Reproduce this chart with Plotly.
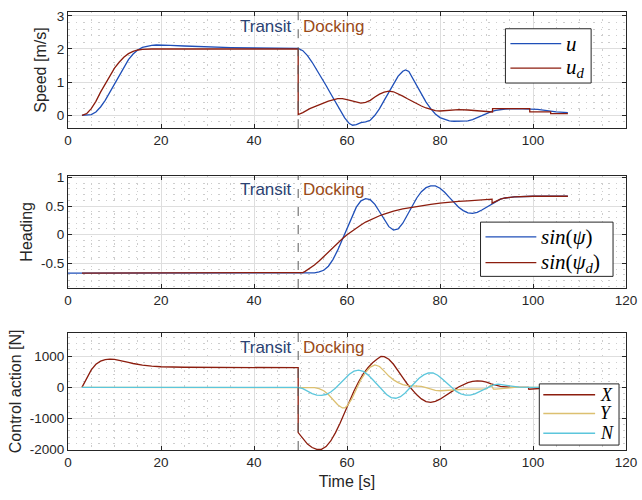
import plotly.graph_objects as go

# ---------------- data ----------------
SWITCH_T = 49.5

# Speed: u
u_t = [3, 4, 5, 6, 7, 8, 9, 10, 11, 12, 13, 14, 15, 16, 17, 18, 19, 20, 22, 25, 30, 35, 40, 45, 49.5,
       50.5, 51.5, 52.5, 53.5, 54.5, 55.5, 56.5, 57.5, 58.5, 59.5, 60.5, 61.2, 62, 63, 64, 65, 66, 67, 68, 69,
       70, 71, 72, 72.6, 73.3, 74, 75, 76, 77, 78, 79, 80, 81, 82, 83, 84, 85, 86, 87, 88, 89, 90, 91,
       92, 93, 94, 96, 98, 99.5, 101, 103, 105, 107.5]
u_v = [0, 0, 0.02, 0.1, 0.25, 0.45, 0.7, 0.95, 1.2, 1.45, 1.68, 1.85, 1.97, 2.05, 2.09, 2.11, 2.12, 2.12, 2.11, 2.09, 2.06, 2.04, 2.03, 2.02, 2.02,
       1.95, 1.8, 1.6, 1.38, 1.15, 0.9, 0.65, 0.4, 0.15, -0.08, -0.25, -0.3, -0.28, -0.22, -0.2, -0.15, 0.0, 0.2, 0.45, 0.7,
       0.95, 1.18, 1.33, 1.37, 1.32, 1.15, 0.88, 0.62, 0.4, 0.2, 0.04, -0.07, -0.13, -0.17, -0.18, -0.18, -0.18, -0.17, -0.13, -0.07, 0.0, 0.06, 0.11,
       0.15, 0.17, 0.19, 0.2, 0.2, 0.2, 0.18, 0.14, 0.1, 0.08]

# Speed: u_d
ud_t = [3, 4, 5, 6, 7, 8, 9, 10, 11, 12, 13, 14, 15, 16, 18, 20, 30, 49.5, 49.5,
        50.5, 52, 54, 56, 58, 59, 60, 61, 62, 63, 64, 65, 66, 67, 68, 69, 70, 71, 72, 73, 74, 75, 76, 77, 78, 79,
        80, 82, 84, 86, 88, 90, 91.3, 91.3, 94, 99.3, 99.3, 103.8, 103.8, 107.5]
ud_v = [0, 0.05, 0.2, 0.42, 0.7, 0.95, 1.2, 1.42, 1.6, 1.75, 1.86, 1.93, 1.97, 1.99, 2.0, 2.0, 2.0, 2.0, 0.02,
        0.08, 0.2, 0.32, 0.43, 0.5, 0.5, 0.47, 0.43, 0.39, 0.37, 0.39, 0.45, 0.55, 0.64, 0.7, 0.73, 0.71, 0.65, 0.58, 0.5, 0.42, 0.35, 0.28, 0.22, 0.17, 0.14,
        0.13, 0.16, 0.17, 0.16, 0.13, 0.1, 0.1, 0.2, 0.2, 0.2, 0.1, 0.1, 0.05, 0.05]

# Heading: sin(psi)
hp_t = [0, 10, 20, 30, 40, 49.5, 52, 53, 54, 55, 56, 57, 58, 59, 60, 61, 62, 63, 64, 65, 66, 67, 68, 69, 70, 71,
        72, 73, 74, 75, 76, 77, 78, 79, 80, 81, 82, 83, 84, 85, 86, 87, 88, 89, 90, 91, 92, 93, 94, 96, 100, 107.5]
hp_v = [-0.67, -0.67, -0.67, -0.67, -0.67, -0.67, -0.67, -0.665, -0.65, -0.62, -0.55, -0.43, -0.27, -0.08, 0.12, 0.32, 0.48, 0.59, 0.63, 0.61, 0.53, 0.4, 0.26, 0.14, 0.08, 0.1,
        0.2, 0.34, 0.5, 0.64, 0.75, 0.82, 0.85, 0.85, 0.81, 0.74, 0.65, 0.56, 0.48, 0.42, 0.38, 0.37, 0.39, 0.43, 0.48, 0.53, 0.58, 0.62, 0.64, 0.66, 0.67, 0.67]

# Heading: sin(psi_d)
hd_t = [3, 49.5, 50.5, 51, 52, 53, 54, 55, 56, 57, 58, 59, 60, 61, 62, 63, 64, 65, 66, 67, 68, 69, 70, 72, 74, 76,
        78, 80, 82, 84, 86, 88, 91.2, 91.2, 92, 93, 94, 96, 100, 107.5]
hd_v = [-0.67, -0.67, -0.66, -0.64, -0.59, -0.53, -0.46, -0.38, -0.3, -0.22, -0.14, -0.07, 0.0, 0.06, 0.12, 0.17, 0.22, 0.26, 0.3, 0.33, 0.36, 0.39, 0.41, 0.45, 0.48, 0.51,
        0.53, 0.55, 0.57, 0.58, 0.59, 0.6, 0.62, 0.55, 0.58, 0.62, 0.64, 0.66, 0.67, 0.67]

# Control action: X
X_t = [3, 4, 5, 6, 7, 8, 9, 10, 11, 12, 13, 14, 15, 16, 18, 20, 25, 30, 40, 49.5, 49.5,
       50.5, 51.5, 52.5, 53.5, 54.5, 55.5, 56.5, 57.5, 58.5, 59.5, 60.5, 61.5, 62.5, 63.5, 64.5, 65.5, 66.5, 67.3, 68, 69,
       70, 71, 72, 73, 74, 75, 76, 77, 78, 79, 80, 81, 82, 83, 84, 85, 86, 87, 88, 89, 90, 91, 92, 93, 95, 99, 99.1, 100, 102, 105, 108]
X_v = [0, 300, 560, 740, 840, 890, 905, 895, 870, 835, 800, 765, 735, 710, 680, 660, 645, 640, 635, 630, -1450,
       -1650, -1820, -1930, -1990, -1990, -1900, -1720, -1460, -1150, -800, -450, -120, 180, 430, 630, 790, 910, 990, 985, 900,
       740, 540, 310, 100, -80, -240, -370, -460, -480, -450, -380, -290, -190, -90, 10, 90, 150, 190, 210, 200, 170, 110, 60, 30, 10, 0, -60, -50, -20, 0, 0]

# Control action: Y
Y_t = [3, 49.5, 52, 53, 54, 55, 56, 57, 58, 59, 59.5, 60, 61, 62, 63, 64, 65, 66, 67, 68, 69, 70, 71, 72, 73, 74, 75, 76,
       77, 78, 79, 80, 81, 82, 84, 86, 88, 90, 91, 91.5, 92, 94, 96, 100, 108]
Y_v = [0, 0, 0, -10, -40, -110, -230, -390, -560, -660, -660, -600, -380, -60, 250, 480, 650, 720, 670, 520, 360, 240, 150, 90, 55, 45, 45, 30,
       -10, -60, -100, -110, -100, -80, -60, -60, -60, -50, 80, -60, -60, -20, 0, 0, 0]

# Control action: N
N_t = [3, 49.5, 50.5, 51.5, 52.5, 53.5, 54.5, 55.5, 56.5, 57.5, 58.5, 59.5, 60.5, 61.5, 62.5, 63.5, 64.5, 65.5, 66.5, 67.5, 68.5, 69.5,
       70.5, 71.5, 72.5, 73.5, 74.5, 75.5, 76.5, 77.5, 78.5, 79.5, 80.5, 81.5, 82.5, 83.5, 84.5, 85.5, 86.5, 87.5, 88.5, 89.5, 90.5,
       91.5, 92.5, 93.5, 95, 97, 100, 108]
N_v = [0, 0, -40, -120, -200, -250, -260, -230, -150, -30, 120, 280, 420, 520, 550, 510, 400, 250, 80, -90, -230, -330,
       -350, -300, -180, -20, 140, 290, 400, 460, 460, 390, 270, 130, -10, -130, -210, -250, -250, -210, -140, -60, 20,
       80, 100, 80, 30, 10, 0, 0]

x_ticks_top = [0, 20, 40, 60, 80, 100]
x_ticks = [0, 20, 40, 60, 80, 100, 120]
y1_ticks = [0, 1, 2, 3]
y2_ticks = [-0.5, 0, 0.5, 1]
y2_text = ["-0.5", "0", "0.5", "1"]
y3_ticks = [-2000, -1000, 0, 1000]
y3_text = ["-2000", "-1000", "0", "1000"]

# ---------------- styling ----------------
BLUE = "#1f4fb8"
RED = "#8c1d0e"
YEL = "#dcc070"
CYAN = "#5cc6dc"
TXT = "#262626"
TRANSIT_C = "#2b4272"
DOCK_C = "#9a4a18"

W, H = 642, 500
ML, MR, MT, MB = 68, 14, 5, 50
PW, PH = W - ML - MR, H - MT - MB

fig = go.Figure()

def add(t, v, name, color, xa, ya):
    fig.add_trace(go.Scatter(x=t, y=v, name=name, mode="lines",
                             line=dict(color=color, width=1.3),
                             xaxis=xa, yaxis=ya, showlegend=False))

add(u_t, u_v, "u", BLUE, "x", "y")
add(ud_t, ud_v, "u_d", RED, "x", "y")
add(hp_t, hp_v, "sin(psi)", BLUE, "x2", "y2")
add(hd_t, hd_v, "sin(psi_d)", RED, "x2", "y2")
add(X_t, X_v, "X", RED, "x3", "y3")
add(Y_t, Y_v, "Y", YEL, "x3", "y3")
add(N_t, N_v, "N", CYAN, "x3", "y3")

tickfont = dict(family="Liberation Sans, Arial, sans-serif", size=13.5, color=TXT)
titlefont = dict(family="Liberation Sans, Arial, sans-serif", size=16, color=TXT)

common = dict(showline=True, linecolor=TXT, linewidth=1, mirror="ticks",
              ticks="inside", ticklen=4, tickcolor=TXT, tickfont=tickfont,
              showgrid=True, gridcolor="#dedede", gridwidth=1, zeroline=False)

def minor(d):
    return dict(tickmode="linear", tick0=0, dtick=d, showgrid=True,
                gridcolor="#cdcdcd", griddash="1.5px,6px", gridwidth=1, ticks="")

doms = {"1": [0.733, 0.998], "2": [0.369, 0.625], "3": [0.0, 0.267]}

layout = dict(
    width=W, height=H,
    margin=dict(l=ML, r=MR, t=MT, b=MB),
    paper_bgcolor="white", plot_bgcolor="white",
    xaxis=dict(domain=[0, 1], range=[0, 120], tickmode="array", tickvals=x_ticks_top,
               minor=minor(5), anchor="y", **common),
    xaxis2=dict(domain=[0, 1], range=[0, 120], tickmode="array", tickvals=x_ticks,
                minor=minor(5), anchor="y2", **common),
    xaxis3=dict(domain=[0, 1], range=[0, 120], tickmode="array", tickvals=x_ticks,
                minor=minor(5), anchor="y3",
                title=dict(text="Time [s]", font=titlefont, standoff=6), **common),
    yaxis=dict(domain=doms["1"], range=[-0.39, 3.12], tickmode="array", tickvals=y1_ticks,
               minor=minor(0.2), anchor="x",
               title=dict(text="Speed [m/s]", font=titlefont, standoff=6), **common),
    yaxis2=dict(domain=doms["2"], range=[-0.93, 1.03], tickmode="array", tickvals=y2_ticks,
                ticktext=y2_text, minor=minor(0.1), anchor="x2",
                title=dict(text="Heading", font=titlefont, standoff=4), **common),
    yaxis3=dict(domain=doms["3"], range=[-2010, 1750], tickmode="array", tickvals=y3_ticks,
                ticktext=y3_text, minor=minor(200), anchor="x3",
                title=dict(text="Control action [N]", font=titlefont, standoff=4), **common),
    showlegend=False,
)
fig.update_layout(**layout)

# Transit / Docking markers
annfont = dict(family="Liberation Sans, Arial, sans-serif", size=17)
for xa, ya in [("x", "y"), ("x2", "y2"), ("x3", "y3")]:
    fig.add_shape(type="line", xref=xa, yref=ya + " domain", x0=SWITCH_T, x1=SWITCH_T, y0=0, y1=1,
                  line=dict(color="#5a5a5a", width=1, dash="dash"))
    fig.add_annotation(xref=xa, yref=ya + " domain", x=SWITCH_T, y=0.873, text="Transit",
                       showarrow=False, xanchor="right", yanchor="middle", xshift=-4,
                       font=dict(color=TRANSIT_C, **annfont))
    fig.add_annotation(xref=xa, yref=ya + " domain", x=SWITCH_T, y=0.873, text="Docking",
                       showarrow=False, xanchor="left", yanchor="middle", xshift=3,
                       font=dict(color=DOCK_C, **annfont))

# Boxed legends (MATLAB style), placed in pixel terms of the paper area
def px(xp):
    return (xp - ML) / PW

def py(yp):
    return 1 - (yp - MT) / PH

def boxed_legend(box, entries, line_x, text_x, size):
    x0, y0, x1, y1 = box
    fig.add_shape(type="rect", xref="paper", yref="paper",
                  x0=px(x0), x1=px(x1), y0=py(y0), y1=py(y1),
                  fillcolor="white", line=dict(color=TXT, width=1), layer="above")
    for yy, label, color in entries:
        fig.add_shape(type="line", xref="paper", yref="paper",
                      x0=px(line_x[0]), x1=px(line_x[1]), y0=py(yy), y1=py(yy),
                      line=dict(color=color, width=1.3), layer="above")
        fig.add_annotation(xref="paper", yref="paper", x=px(text_x), y=py(yy),
                           text=label, showarrow=False, xanchor="left", yanchor="middle",
                           font=dict(family="Liberation Serif, Times New Roman, serif",
                                     size=size, color="black"))

boxed_legend((507, 23, 593, 78),
             [(38, "<i>u</i>", BLUE), (63, "<i>u<sub>d</sub></i>", RED)],
             (512, 563), 566, 21)
boxed_legend((482, 219, 615, 274),
             [(234, "<i>sin</i>(<i>ψ</i>)", BLUE), (260, "<i>sin</i>(<i>ψ<sub>d</sub></i>)", RED)],
             (487, 538), 541, 21)
boxed_legend((541, 383, 621, 445),
             [(394, "<i>X</i>", RED), (413, "<i>Y</i>", YEL), (433, "<i>N</i>", CYAN)],
             (545, 597), 600, 18)

fig.write_html("out.html")
